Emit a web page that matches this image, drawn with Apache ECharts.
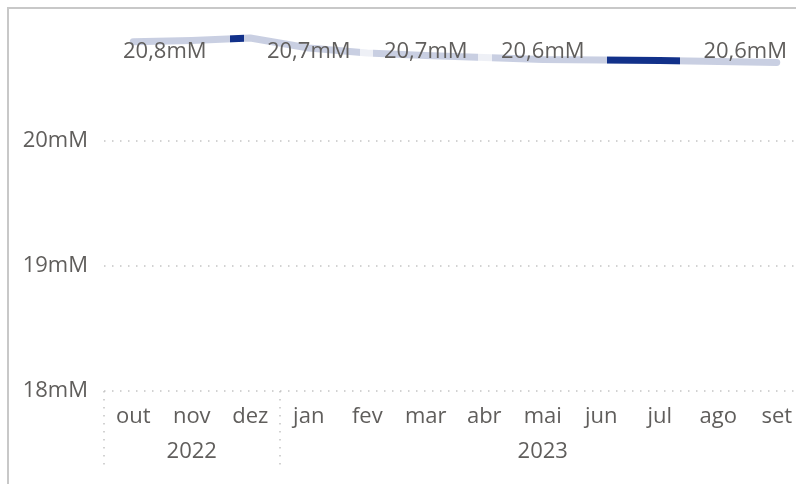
<!DOCTYPE html>
<html>
<head>
<meta charset="utf-8">
<script src="https://cdn.jsdelivr.net/npm/echarts@6/dist/echarts.min.js"></script>
<style>
  html, body { margin: 0; padding: 0; background: #fff; }
  #chart { width: 796px; height: 484px; }
</style>
</head>
<body>
<div id="chart"></div>
<script>
// 数据
var months = ['out', 'nov', 'dez', 'jan', 'fev', 'mar', 'abr', 'mai', 'jun', 'jul', 'ago', 'set'];
var years = ['2022', '2022', '2022', '2023', '2023', '2023', '2023', '2023', '2023', '2023', '2023', '2023'];
var values = [20.79, 20.80, 20.82, 20.74, 20.70, 20.68, 20.665, 20.648, 20.645, 20.64, 20.632, 20.625];
var labeledIdx = [0, 3, 5, 7, 11];
var yTicks = [18, 19, 20];
// segmentos destacados (índice do mês)
var darkRanges = [[1.655, 1.894], [8.1, 9.35]];
var lightRanges = [[3.87, 4.10], [5.89, 6.13]];

var textColor = '#605e5c';
var fontFamily = '"Segoe UI", "Open Sans", sans-serif';
var lavender = '#c9cfe2';
var navy = '#12318a';
var pale = '#eef0f6';
var dotted = { color: '#c4c4c4', type: [1.5, 6.5], width: 1.5 };

// meio de cada ano para o rótulo
var yearMid = {};
(function () {
    var start = 0;
    for (var i = 1; i <= years.length; i++) {
        if (i === years.length || years[i] !== years[start]) {
            yearMid[Math.floor((start + i - 1) / 2)] = years[start];
            start = i;
        }
    }
})();

var pieces = [];
darkRanges.forEach(function (r) { pieces.push({ gte: r[0], lte: r[1], color: navy }); });
lightRanges.forEach(function (r) { pieces.push({ gte: r[0], lte: r[1], color: pale }); });
pieces.sort(function (a, b) { return a.gte - b.gte; });

var seriesData = values.map(function (v, i) {
    return {
        value: [i, v],
        label: { show: labeledIdx.indexOf(i) >= 0 }
    };
});

function fmt(v) {
    return v.toFixed(1).replace('.', ',') + 'mM';
}

var chart = echarts.init(document.getElementById('chart'));

chart.setOption({
    animation: false,
    textStyle: { fontFamily: fontFamily },
    graphic: [{
        type: 'rect',
        shape: { x: 8, y: 8, width: 900, height: 600 },
        style: { fill: 'none', stroke: '#c8c8c8', lineWidth: 2 },
        silent: true
    }],
    grid: { left: 104, width: 702, top: 15.5, bottom: 93, containLabel: false, outerBoundsMode: 'none' },
    xAxis: [
        {
            type: 'category',
            data: months,
            boundaryGap: true,
            axisLine: { show: false },
            axisTick: {
                show: true,
                interval: function (i) { return i === 0 || years[i] !== years[i - 1]; },
                length: 78,
                lineStyle: dotted
            },
            axisLabel: { interval: 0, color: textColor, fontSize: 22, margin: 15, fontFamily: fontFamily },
            splitLine: { show: false }
        },
        {
            type: 'category',
            data: months,
            position: 'bottom',
            offset: 35,
            axisLine: { show: false },
            axisTick: { show: false },
            axisLabel: {
                interval: 0,
                color: textColor,
                fontSize: 22,
                margin: 15,
                fontFamily: fontFamily,
                formatter: function (val, i) { return yearMid[i] || ''; }
            }
        },
        {
            type: 'value',
            min: -0.5,
            max: months.length - 0.5,
            show: false
        }
    ],
    yAxis: {
        type: 'value',
        min: yTicks[0],
        max: 21,
        interval: 1,
        axisLine: { show: false },
        axisTick: { show: false },
        axisLabel: {
            color: textColor,
            fontSize: 22,
            margin: 16,
            fontFamily: fontFamily,
            showMaxLabel: false,
            formatter: function (v) { return v + 'mM'; }
        },
        splitLine: { show: true, showMaxLine: false, lineStyle: dotted }
    },
    visualMap: {
        type: 'piecewise',
        show: false,
        dimension: 0,
        seriesIndex: 0,
        pieces: pieces,
        outOfRange: { color: lavender }
    },
    series: [{
        type: 'line',
        xAxisIndex: 2,
        data: seriesData,
        symbol: 'circle',
        symbolSize: 1,
        showSymbol: true,
        itemStyle: { color: 'transparent' },
        lineStyle: { width: 7, cap: 'round', join: 'round' },
        label: {
            show: false,
            color: textColor,
            fontSize: 22,
            fontFamily: fontFamily,
            formatter: function (p) { return fmt(p.value[1]); }
        },
        labelLayout: function (params) {
            var w = params.labelRect.width;
            var cx = params.rect.x + params.rect.width / 2;
            cx = Math.max(123 + w / 2, Math.min(787 - w / 2, cx));
            return { x: cx, y: 52, align: 'center', verticalAlign: 'middle' };
        },
        emphasis: { disabled: true }
    }]
});
</script>
</body>
</html>
